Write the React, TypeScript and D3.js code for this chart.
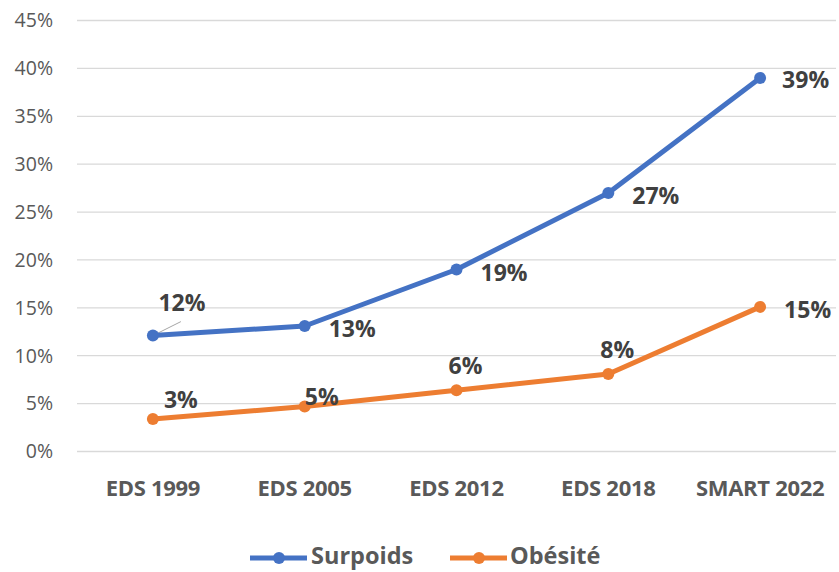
import React from "react";
import * as d3 from "d3";

const categories = ["EDS 1999", "EDS 2005", "EDS 2012", "EDS 2018", "SMART 2022"];
const surpoids = [12.1, 13.1, 19.0, 27.0, 39.0];
const obesite = [3.4, 4.7, 6.4, 8.1, 15.1];
const yTicks = [0, 5, 10, 15, 20, 25, 30, 35, 40, 45];
const seriesNames = ["Surpoids", "Obésité"];

// label placement offsets (dx, dy, anchor) per point
const surpoidsLabelPos: [number, number, string][] = [
  [29, -33, "middle"],
  [24, 3, "start"],
  [24, 3, "start"],
  [24, 3, "start"],
  [22, 2, "start"],
];
const obesiteLabelPos: [number, number, string][] = [
  [28, -19, "middle"],
  [17, -10, "middle"],
  [9, -24, "middle"],
  [9, -24, "middle"],
  [24, 3, "start"],
];

const W = 839;
const H = 572;
const colors = ["#4472C4", "#ED7D31"];

export default function App() {
  const x = d3.scaleBand<string>().domain(categories).range([77, 836]);
  const y = d3.scaleLinear().domain([0, 45]).range([451.5, 20.5]);
  const cx = (c: string) => (x(c) as number) + x.bandwidth() / 2;
  const line = d3
    .line<number>()
    .x((_, i) => cx(categories[i]))
    .y((d) => y(d));
  const fontFam = "'Open Sans', 'Noto Sans', sans-serif";
  const series = [
    { name: seriesNames[0], values: surpoids, pos: surpoidsLabelPos, color: colors[0] },
    { name: seriesNames[1], values: obesite, pos: obesiteLabelPos, color: colors[1] },
  ];
  const legY = 556;
  return (
    <svg width={W} height={H} style={{ position: "absolute", left: 0, top: 0, background: "#fff" }}>
      <rect width={W} height={H} fill="#fff" />
      {yTicks.map((t) => (
        <g key={t}>
          <line x1={77} x2={836} y1={y(t)} y2={y(t)} stroke="#d9d9d9" strokeWidth={1.3} />
          <text
            x={53}
            y={y(t)}
            dy="0.35em"
            textAnchor="end"
            fontSize={19.5}
            fill="#595959"
            fontFamily={fontFam}
          >
            {t}%
          </text>
        </g>
      ))}
      {categories.map((c) => (
        <text
          key={c}
          x={cx(c)}
          y={488}
          dy="0.35em"
          textAnchor="middle"
          fontSize={22}
          fontWeight="bold"
          fill="#595959"
          fontFamily={fontFam}
          letterSpacing={-0.3}
        >
          {c}
        </text>
      ))}
      {/* leader line for 12% */}
      <line
        x1={cx(categories[0]) + 2}
        y1={y(surpoids[0]) - 1}
        x2={cx(categories[0]) + 28}
        y2={y(surpoids[0]) - 14}
        stroke="#a6a6a6"
        strokeWidth={1}
      />
      {series.map((s) => (
        <g key={s.name}>
          <path d={line(s.values) as string} fill="none" stroke={s.color} strokeWidth={5} strokeLinejoin="round" />
          {s.values.map((v, i) => (
            <circle key={i} cx={cx(categories[i])} cy={y(v)} r={6} fill={s.color} />
          ))}
          {s.values.map((v, i) => (
            <text
              key={"l" + i}
              x={cx(categories[i]) + s.pos[i][0]}
              y={y(v) + s.pos[i][1]}
              dy="0.35em"
              textAnchor={s.pos[i][2] as any}
              fontSize={23}
              fontWeight="bold"
              fill="#404040"
              fontFamily={fontFam}
            >
              {Math.round(v)}%
            </text>
          ))}
        </g>
      ))}
      {series.map((s, i) => {
        const lx = i === 0 ? 250 : 450;
        const tx = i === 0 ? 311 : 510;
        return (
          <g key={"leg" + i}>
            <line x1={lx} x2={lx + 57} y1={legY + 2} y2={legY + 2} stroke={s.color} strokeWidth={5} />
            <circle cx={lx + 29} cy={legY + 2} r={6} fill={s.color} />
            <text x={tx} y={legY} dy="0.35em" fontSize={23.5} fontWeight="bold" fill="#595959" fontFamily={fontFam}>
              {s.name}
            </text>
          </g>
        );
      })}
    </svg>
  );
}
